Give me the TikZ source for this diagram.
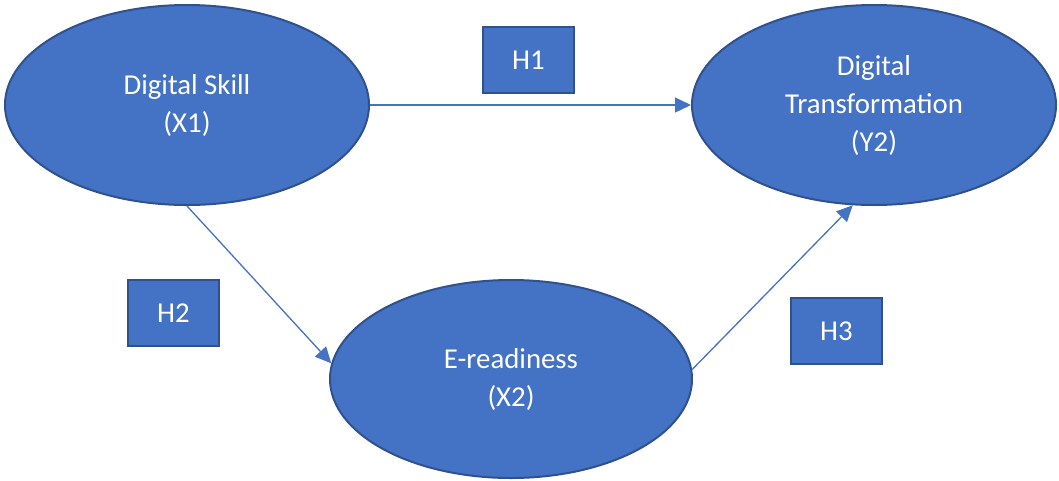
\documentclass[tikz,border=0pt]{standalone}
\usepackage{fontspec}
\setmainfont{Carlito}
\usetikzlibrary{shapes.geometric,arrows.meta}
\definecolor{fillblue}{HTML}{4472C4}
\definecolor{edgeblue}{HTML}{2F528F}
\begin{document}
\begin{tikzpicture}[x=1pt,y=-1pt,
  varnode/.style={ellipse,draw=edgeblue,line width=2pt,fill=fillblue,text=white,
    minimum width=364pt,minimum height=200pt,inner sep=0pt,align=center,
    font=\fontsize{28.8}{38}\selectfont},
  hypbox/.style={rectangle,draw=edgeblue,line width=2pt,fill=fillblue,text=white,
    minimum width=91pt,minimum height=66pt,inner sep=0pt,
    font=\fontsize{28.8}{38}\selectfont},
  link/.style={draw=fillblue,line width=1.3pt,-{Triangle[length=16pt,width=15pt]}}]
\useasboundingbox (0,0) rectangle (1059,480);
\node[varnode] (x1) at (187,105) {Digital Skill\\(X1)};
\node[varnode] (y2) at (874,105) {Digital\\Transformation\\(Y2)};
\node[varnode,minimum width=362pt,minimum height=198pt] (x2) at (511,379) {E-readiness\\(X2)};
\node[hypbox] (h1) at (528.5,60) {H1};
\node[hypbox] (h2) at (173.5,313) {H2};
\node[hypbox] (h3) at (836.5,331) {H3};
\draw[link] (x1.east) -- (y2.west);
\draw[link] (x1.south) -- (x2.175);
\draw[link] (x2.3) -- (y2.258);
\end{tikzpicture}
\end{document}
